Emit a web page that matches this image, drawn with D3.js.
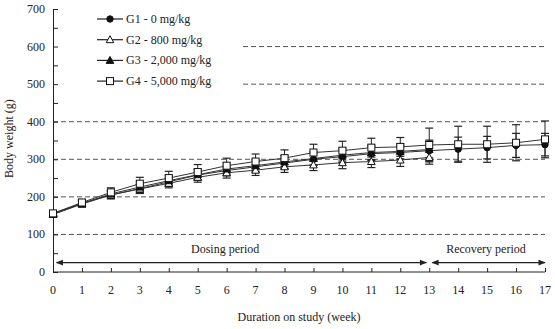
<!DOCTYPE html>
<html>
<head>
<meta charset="utf-8">
<script src="https://cdn.jsdelivr.net/npm/d3@7"></script>
<style>
body { margin: 0; background: #fff; }
text { font-family: "Liberation Serif", "DejaVu Serif", serif; fill: #222; }
</style>
</head>
<body>
<div id="chart"></div>
<script>
// weeks on study
var weeks = [0,1,2,3,4,5,6,7,8,9,10,11,12,13,14,15,16,17];
var yTicks = [0,100,200,300,400,500,600,700];

// mean body weight (g)
var g1 = [155,183,205,222,240,258,270,280,290,300,307,315,318,323,327,331,337,339];
var g2 = [153,181,205,221,236,252,264,271,280,285,291,294,298,305];
var g3 = [154,182,208,226,243,259,274,283,293,302,311,318,321,326];
var g4 = [156,185,212,235,250,266,283,294,303,318,323,331,333,338,340,340,344,353];

// standard deviation
var g1sd = [6,8,10,12,12,13,14,15,16,16,17,18,18,28,32,30,32,30];
var g2sd = [6,8,10,12,12,13,14,14,15,15,16,16,17,18];
var g3sd = [6,8,10,14,14,15,16,16,17,18,18,19,20,22];
var g4sd = [6,8,12,17,18,20,20,20,22,22,25,25,25,45,48,48,48,49];

var groups = ["G1 - 0 mg/kg","G2 - 800 mg/kg","G3 - 2,000 mg/kg","G4 - 5,000 mg/kg"];

var series = [
  {name: groups[0], mean: g1, sd: g1sd, shape: "circle", fill: "#111"},
  {name: groups[1], mean: g2, sd: g2sd, shape: "triangle", fill: "#fff"},
  {name: groups[2], mean: g3, sd: g3sd, shape: "triangle", fill: "#111"},
  {name: groups[3], mean: g4, sd: g4sd, shape: "square", fill: "#fff"}
];

var width = 555, height = 329;
var margin = {top: 9, right: 10, bottom: 57, left: 53};

var svg = d3.select("#chart").append("svg")
    .attr("width", width)
    .attr("height", height);

var x = d3.scaleLinear().domain([0,17]).range([margin.left, width - margin.right]);
var y = d3.scaleLinear().domain([0,700]).range([height - margin.bottom, margin.top]);

// dashed grid
var legendEnd = 243;
svg.append("g").selectAll("line")
    .data([100,200,300,400,500,600])
    .enter().append("line")
    .attr("x1", function(d) { return d >= 500 ? legendEnd : x(0); })
    .attr("x2", x(17))
    .attr("y1", function(d) { return y(d); })
    .attr("y2", function(d) { return y(d); })
    .attr("stroke", "#555")
    .attr("stroke-width", 1)
    .attr("stroke-dasharray", "5,3");

// y axis, ticks pointing inward
var yAxis = d3.axisRight(y).tickValues(d3.range(0, 701, 50)).tickSize(5).tickFormat("");
svg.append("g")
    .attr("transform", "translate(" + x(0) + ",0)")
    .call(yAxis)
    .call(function(g) { g.selectAll("path, line").attr("stroke", "#222"); });

svg.append("g").selectAll("text")
    .data(yTicks)
    .enter().append("text")
    .attr("x", x(0) - 8)
    .attr("y", function(d) { return y(d) + 4; })
    .attr("text-anchor", "end")
    .style("font-size", "12px")
    .text(function(d) { return d; });

// x axis, ticks pointing up
var xAxis = d3.axisTop(x).tickValues(weeks).tickSize(4).tickFormat("");
svg.append("g")
    .attr("transform", "translate(0," + y(0) + ")")
    .call(xAxis)
    .call(function(g) {
      g.select(".domain").attr("d", "M" + x(0) + ",0H" + x(17));
      g.selectAll("path, line").attr("stroke", "#222");
    });

svg.append("g").selectAll("text")
    .data(weeks)
    .enter().append("text")
    .attr("x", function(d) { return x(d); })
    .attr("y", y(0) + 22)
    .attr("text-anchor", "middle")
    .style("font-size", "12px")
    .text(function(d) { return d; });

// axis titles
svg.append("text")
    .attr("transform", "translate(13," + y(355) + ") rotate(-90)")
    .attr("text-anchor", "middle")
    .style("font-size", "12px")
    .text("Body weight (g)");

svg.append("text")
    .attr("x", x(8.5))
    .attr("y", 321)
    .attr("text-anchor", "middle")
    .style("font-size", "12px")
    .text("Duration on study (week)");

// period arrows
var defs = svg.append("defs");
defs.append("marker")
    .attr("id", "ah")
    .attr("viewBox", "0 0 10 10")
    .attr("refX", 9).attr("refY", 5)
    .attr("markerWidth", 7).attr("markerHeight", 6)
    .attr("orient", "auto-start-reverse")
    .append("path").attr("d", "M0,1L10,5L0,9Z").attr("fill", "#222");

var arrowY = y(25);
var periods = [
  {label: "Dosing period", from: 0.12, to: 12.9, mid: 5.95},
  {label: "Recovery period", from: 13.1, to: 17, mid: 14.96}
];
periods.forEach(function(p) {
  svg.append("line")
      .attr("x1", x(p.from)).attr("x2", x(p.to))
      .attr("y1", arrowY).attr("y2", arrowY)
      .attr("stroke", "#222").attr("stroke-width", 1.2)
      .attr("marker-start", "url(#ah)")
      .attr("marker-end", "url(#ah)");
  svg.append("text")
      .attr("x", x(p.mid))
      .attr("y", arrowY - 10)
      .attr("text-anchor", "middle")
      .style("font-size", "12px")
      .text(p.label);
});

function drawMarker(g, s, cx, cy) {
  if (s.shape === "circle") {
    g.append("circle").attr("cx", cx).attr("cy", cy).attr("r", 3.2)
        .attr("fill", s.fill).attr("stroke", "#111");
  } else if (s.shape === "square") {
    g.append("rect").attr("x", cx - 3.5).attr("y", cy - 3.5)
        .attr("width", 7).attr("height", 7)
        .attr("fill", s.fill).attr("stroke", "#111");
  } else {
    g.append("path")
        .attr("d", "M" + cx + "," + (cy - 4) + "L" + (cx + 3.8) + "," + (cy + 3) + "L" + (cx - 3.8) + "," + (cy + 3) + "Z")
        .attr("fill", s.fill).attr("stroke", "#111");
  }
}

var line = d3.line()
    .x(function(d, i) { return x(weeks[i]); })
    .y(function(d) { return y(d); });

var plot = svg.append("g");

// error bars
series.forEach(function(s) {
  var eg = plot.append("g");
  s.mean.forEach(function(m, i) {
    var cx = x(weeks[i]);
    var top = y(m + s.sd[i]), bot = y(m - s.sd[i]);
    eg.append("line").attr("x1", cx).attr("x2", cx).attr("y1", top).attr("y2", bot)
        .attr("stroke", "#222").attr("stroke-width", 1);
    [top, bot].forEach(function(v) {
      eg.append("line").attr("x1", cx - 4).attr("x2", cx + 4).attr("y1", v).attr("y2", v)
          .attr("stroke", "#222").attr("stroke-width", 1.2);
    });
  });
});

// lines
series.forEach(function(s) {
  plot.append("path")
      .datum(s.mean)
      .attr("d", line)
      .attr("fill", "none")
      .attr("stroke", "#333")
      .attr("stroke-width", 1);
});

// markers
series.forEach(function(s) {
  var mg = plot.append("g");
  s.mean.forEach(function(m, i) { drawMarker(mg, s, x(weeks[i]), y(m)); });
});

// legend
var legend = svg.append("g");
series.forEach(function(s, i) {
  var ly = 19 + i * 20.7;
  legend.append("line").attr("x1", 97).attr("x2", 123).attr("y1", ly).attr("y2", ly)
      .attr("stroke", "#222").attr("stroke-width", 1.2);
  drawMarker(legend, s, 110, ly);
  legend.append("text")
      .attr("x", 126)
      .attr("y", ly + 4)
      .style("font-size", "12px")
      .text(s.name);
});
</script>
</body>
</html>
